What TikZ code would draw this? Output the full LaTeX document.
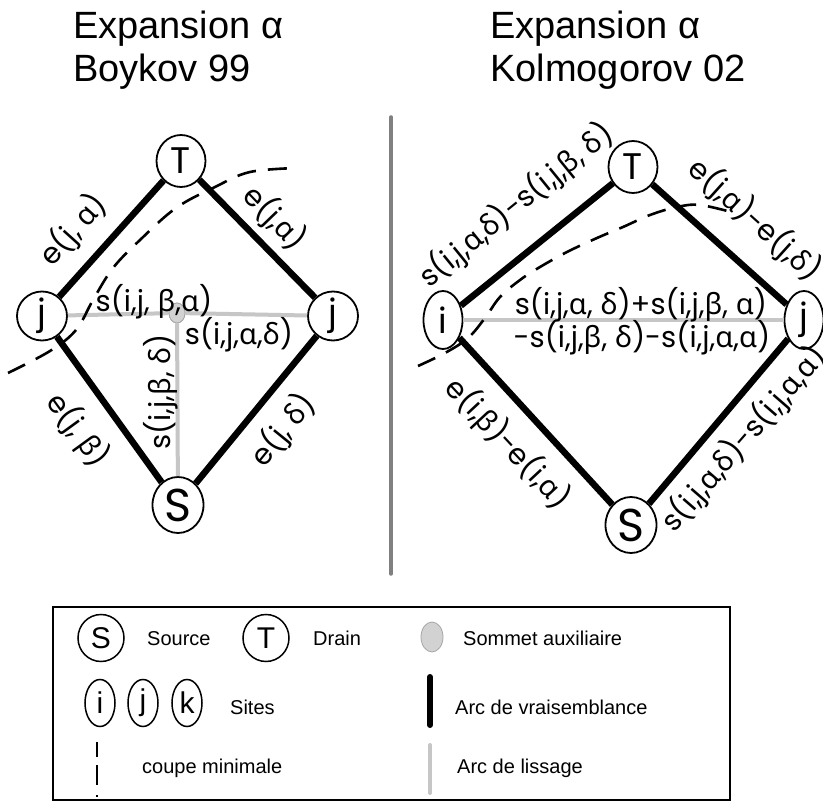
\documentclass[tikz,border=0pt]{standalone}
\usepackage{fontspec}
\setmainfont{Liberation Sans}
\newfontfamily\geo{Poppins}
\newfontfamily\grk{Noto Sans}
\usetikzlibrary{shapes.geometric}
\newcommand\ga{{\grk α}}
\newcommand\gb{{\grk β}}
\newcommand\gd{{\grk δ}}
\tikzset{
  vertex/.style={ellipse, draw, line width=1.8pt, inner sep=-10pt, fill=white},
  tsink/.style={vertex, minimum width=49pt, minimum height=52pt, font=\geo\fontsize{37}{37}\selectfont},
  ssource/.style={vertex, minimum width=51pt, minimum height=56pt, font=\geo\fontsize{46}{46}\selectfont},
  site/.style={vertex, minimum width=50pt, minimum height=49pt, font=\geo\fontsize{35}{35}\selectfont},
  tallsite/.style={vertex, minimum width=39pt, minimum height=58pt, font=\geo\fontsize{35}{35}\selectfont},
  auxv/.style={ellipse, draw=gray!70, fill=gray!35, line width=0.8pt, minimum width=16pt, minimum height=20pt, inner sep=0pt},
  likely/.style={line width=6.5pt, black},
  smooth arc/.style={line width=4pt, gray!45},
  cut/.style={line width=2.6pt, dash pattern=on 19pt off 12pt},
  lbl/.style={font=\geo\fontsize{29}{29}\selectfont, inner sep=0pt},
  title/.style={font=\fontsize{38}{45}\selectfont, anchor=base west, inner sep=0pt, align=left},
  legtxt/.style={font=\fontsize{20}{20}\selectfont, anchor=base west, inner sep=0pt},
  legvert/.style={ellipse, draw, line width=1.5pt, inner sep=-6pt, font=\fontsize{30}{30}\selectfont},
}
\begin{document}
\begin{tikzpicture}[x=1pt, y=-1pt]
\useasboundingbox (0,0) rectangle (823,802);
\fill[white] (0,0) rectangle (823,802);

% ---------- titles ----------
\node[title] (tl1) at (73,39) {Expansion α};
\node[title] (tl2) at (73,82) {Boykov 99};
\node[title] (tr1) at (490,39) {Expansion α};
\node[title] (tr2) at (490,82) {Kolmogorov 02};

% ---------- separator ----------
\coordinate (sepA) at (391,117);
\coordinate (sepB) at (391,574);
\draw[line width=3.5pt, gray, line cap=round] (sepA) -- (sepB);

% ---------- Boykov 99 graph ----------
\node[tsink]   (T1)  at (181,161) {T};
\node[ssource] (S1)  at (178,505) {S};
\node[site]    (jl)  at (42,316)  {j};
\node[site]    (jr)  at (333,316) {j};
\node[auxv]    (aux) at (177,313) {};

\draw[smooth arc] (jl) -- (aux);
\draw[smooth arc] (aux) -- (jr);
\draw[smooth arc] (aux) -- (S1);
\node[auxv] (auxtop) at (aux) {};

\draw[likely] (jl) -- (T1);
\draw[likely] (T1) -- (jr);
\draw[likely] (jl) -- (S1);
\draw[likely] (S1) -- (jr);

\node[lbl, rotate=48]  (la) at (73,230)  {e(j, \ga)};
\node[lbl, rotate=-46] (lb) at (275,218) {e(j,\ga)};
\node[lbl, rotate=-54] (lc) at (78,430)  {e(j, \gb)};
\node[lbl, rotate=51]  (ld) at (283,430) {e(j, \gd)};
\node[lbl]             (le) at (154,302) {s(i,j, \gb,\ga)};
\node[lbl]             (lf) at (239,335) {s(i,j,\ga,\gd)};
\node[lbl, rotate=90]  (lg) at (161,392) {s(i,j,\gb, \gd)};

\draw[cut] plot[smooth, tension=0.6] coordinates {(8,373) (50,351) (76,330) (93,300) (113,268) (140,240) (176,208) (215,187) (250,172) (298,168)};

% ---------- Kolmogorov 02 graph ----------
\node[tsink]    (T2) at (633,167) {T};
\node[ssource]  (S2) at (631,525) {S};
\node[tallsite] (iR) at (443,320) {i};
\node[tallsite] (jR) at (804,320) {j};

\draw[smooth arc] (iR) -- (jR);
\draw[likely] (iR) -- (T2);
\draw[likely] (T2) -- (jR);
\draw[likely] (iR) -- (S2);
\draw[likely] (S2) -- (jR);

\node[lbl, rotate=39]  (ra) at (516,205) {s(i,j,\ga,\gd)-s(i,j,\gb, \gd)};
\node[lbl, rotate=-42] (rb) at (755,220) {e(j,\ga)-e(j,\gd)};
\node[lbl]             (rc) at (641,305) {s(i,j,\ga, \gd)+s(i,j,\gb, \ga)};
\node[lbl]             (rd) at (642,338) {-s(i,j,\gb, \gd)-s(i,j,\ga,\ga)};
\node[lbl, rotate=-47] (re) at (508,443) {e(i,\gb)-e(i,\ga)};
\node[lbl, rotate=49]  (rf) at (744,439) {s(i,j,\ga,\gd)-s(i,j,\ga,\ga)};

\draw[cut] plot[smooth, tension=0.6] coordinates {(418,366) (445,353) (468,338) (485,318) (500,297) (520,280) (540,267) (567,252) (597,238) (623,227) (650,215) (677,207) (700,205) (735,213)};

% ---------- legend ----------
\draw[line width=1.6pt] (53,607) rectangle (730,800);

\node[legvert, minimum width=46pt, minimum height=47pt] (lgS) at (101,638) {S};
\node[legtxt] (lgSt) at (147,645) {Source};
\node[legvert, minimum width=46pt, minimum height=47pt] (lgT) at (266,638) {T};
\node[legtxt] (lgTt) at (313,645) {Drain};
\node[auxv, minimum width=22pt, minimum height=30pt] (lgA) at (432,637) {};
\node[legtxt] (lgAt) at (463,645) {Sommet auxiliaire};

\node[legvert, minimum width=30pt, minimum height=47pt] (lgi) at (100,703) {i};
\node[legvert, minimum width=30pt, minimum height=47pt] (lgj) at (143,703) {j};
\node[legvert, minimum width=30pt, minimum height=47pt] (lgk) at (187,703) {k};
\node[legtxt] (lgst) at (230,714) {Sites};
\coordinate (barA) at (430,677);
\coordinate (barB) at (430,725);
\draw[line width=6pt, line cap=round] (barA) -- (barB);
\node[legtxt] (lgvt) at (455,714) {Arc de vraisemblance};

\coordinate (cutA) at (97,742);
\coordinate (cutB) at (97,799);
\draw[line width=2.6pt, dash pattern=on 15pt off 8pt on 20pt off 10pt on 2pt off 10pt] (cutA) -- (cutB);
\node[legtxt] (lgct) at (142,773) {coupe minimale};
\coordinate (grA) at (430,745);
\coordinate (grB) at (430,793);
\draw[line width=4pt, gray!45, line cap=round] (grA) -- (grB);
\node[legtxt] (lglt) at (457,773) {Arc de lissage};
\end{tikzpicture}
\end{document}
